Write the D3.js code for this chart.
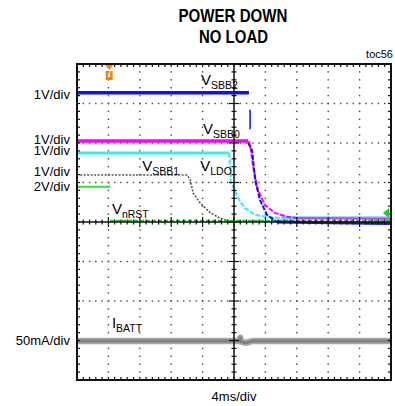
<!DOCTYPE html>
<html><head><meta charset="utf-8">
<script src="https://cdn.jsdelivr.net/npm/d3@7"></script>
<style>body{margin:0;background:#fff}svg{display:block}text{font-family:"Liberation Sans",Arial,sans-serif}</style>
</head><body><svg id="c" width="395" height="406"></svg>
<script>
// time in ms (4 ms/div), amplitude in screen divisions from centre
const vsbb2Flat = [[0,3.27],[21.9,3.27]];
const vsbb2Blip = [[22.05,2.84],[22.05,2.35]];
const vsbb2Fall = [[21.8,2.0],[22.3,1.82],[22.7,1.06],[23.3,0.56],[24.2,0.18],[25.5,0.0]];
const vsbb2End = [[25.5,0.0],[40,-0.04]];
const vsbb0Flat = [[0,2.05],[21.8,2.05]];
const vsbb0Fall = [[21.9,2.05],[22.15,1.82],[22.45,1.39],[23.05,0.81],[23.95,0.43],[25.2,0.23],[26.8,0.13],[28,0.1]];
const vsbb0End = [[28,0.1],[40,0.08]];
const vldoFlat = [[0,1.75],[19.36,1.75]];
const vldoFall = [[19.4,1.75],[19.6,1.0],[19.9,0.89],[20.5,0.61],[21.4,0.35],[22.7,0.18],[24.2,0.13],[26,0.1]];
const vldoEnd = [[26,0.1],[40,0.1]];
const vsbb1 = [[0.4,1.19],[14.0,1.19],[14.4,1.08],[14.8,0.73],[15.7,0.48],[17.0,0.23],[18.2,0.10],[19.2,0.03],[19.6,0.02]];
const vnrstHigh = [[0,0.89],[4.2,0.89]];
const vnrstLow = [[4.2,0.03],[40,0.03]];
const ibatt = [[0,-3.01],[20.7,-3.01],[20.8,-2.93],[20.9,-3.03],[21.5,-3.06],[22.4,-3.01],[40,-3.01]];
const scaleLabels = [["1V/div",3.22],["1V/div",2.10],["1V/div",1.82],["1V/div",1.28],["2V/div",0.89],["50mA/div",-3.01]];
const traceLabels = [["V","SBB2",15.8,3.47],["V","SBB0",16.05,2.22],["V","SBB1",8.3,1.30],["V","LDO",15.7,1.30],["V","nRST",4.45,0.20],["I","BATT",4.45,-2.68]];
const triggerT = 4.1, groundMark = 0.23;

const svg = d3.select("#c");
const x = d3.scaleLinear().domain([0,40]).range([77,391]);
const y = d3.scaleLinear().domain([-4,4]).range([380,64]);
const line = d3.line().x(d=>x(d[0])).y(d=>y(d[1]));

// title
svg.append("text").attr("x",233).attr("y",22).attr("text-anchor","middle").attr("font-weight","bold")
  .attr("font-size",19).attr("textLength",109).attr("lengthAdjust","spacingAndGlyphs").text("POWER DOWN");
svg.append("text").attr("x",233.5).attr("y",43).attr("text-anchor","middle").attr("font-weight","bold")
  .attr("font-size",19).attr("textLength",69).attr("lengthAdjust","spacingAndGlyphs").text("NO LOAD");
svg.append("text").attr("x",393).attr("y",58).attr("text-anchor","end").attr("font-size",11).text("toc56");
svg.append("text").attr("x",234).attr("y",401).attr("text-anchor","middle").attr("font-size",13).text("4ms/div");

// grid dots
const g = svg.append("g").attr("fill","#444");
const majorX = d3.range(4,40,4), majorY = d3.range(-3,4,1);
const minorX = d3.range(0,40.01,0.8), minorY = d3.range(-4,4.01,0.2);
majorY.forEach(v=>{ if(v===0) return; minorX.forEach(t=>g.append("rect").attr("x",x(t)-0.7).attr("y",y(v)-0.7).attr("width",1.4).attr("height",1.4)); });
majorX.forEach(t=>{ if(t===20) return; minorY.forEach(v=>g.append("rect").attr("x",x(t)-0.7).attr("y",y(v)-0.7).attr("width",1.4).attr("height",1.4)); });

// traces
function tr(data,color,w,dash){ const p=svg.append("path").datum(data).attr("d",line).attr("fill","none")
  .attr("stroke",color).attr("stroke-width",w).attr("stroke-linejoin","round"); if(dash) p.attr("stroke-dasharray",dash); return p; }
tr(ibatt,"#a8a8a8",6.5);
tr(ibatt,"#808080",3);
tr(vsbb1,"#555",1.6,"2,1.5");
tr(vnrstHigh,"#33dd33",2);
tr(vnrstLow,"#22cc22",2,"4,2");
tr(vldoFlat,"#33eeee",3);
tr(vldoFall,"#33eeee",2,"5,1.5");
tr(vldoEnd,"#44eeee",3.5);
tr(vsbb0Flat,"#ff00ff",3.5);
tr(vsbb0Fall,"#ff00ff",2,"5,1.5");
tr(vsbb0End,"#ff22ff",2);
tr(vsbb2Flat,"#1010e8",3.5);
tr(vsbb2Blip,"#1010e8",1.5);
tr(vsbb2Fall,"#1010e8",2,"5,1.5");
tr(vsbb2End,"#1010e8",3);

// centre axes
svg.append("line").attr("x1",x(0)).attr("x2",x(40)).attr("y1",y(0)).attr("y2",y(0)).attr("stroke","#111").attr("stroke-width",1.5);
svg.append("line").attr("x1",x(20)).attr("x2",x(20)).attr("y1",y(-4)).attr("y2",y(4)).attr("stroke","#111").attr("stroke-width",1.5);
const ax = svg.append("g").attr("stroke","#111").attr("stroke-width",1.2);
minorY.forEach(v=>{ const L = Math.abs(v-Math.round(v))<1e-6?5:2.5; ax.append("line").attr("x1",x(20)-L).attr("x2",x(20)+L).attr("y1",y(v)).attr("y2",y(v)); });
minorX.forEach(t=>{ const L = Math.abs(t/4-Math.round(t/4))<1e-6?5:2.5; ax.append("line").attr("x1",x(t)).attr("x2",x(t)).attr("y1",y(0)-L).attr("y2",y(0)+L); });
// frame ticks
minorX.forEach(t=>{ ax.append("line").attr("x1",x(t)).attr("x2",x(t)).attr("y1",y(4)).attr("y2",y(4)+3);
  ax.append("line").attr("x1",x(t)).attr("x2",x(t)).attr("y1",y(-4)).attr("y2",y(-4)-3); });
minorY.forEach(v=>{ ax.append("line").attr("x1",x(0)).attr("x2",x(0)+3).attr("y1",y(v)).attr("y2",y(v));
  ax.append("line").attr("x1",x(40)).attr("x2",x(40)-3).attr("y1",y(v)).attr("y2",y(v)); });
svg.append("rect").attr("x",x(0)).attr("y",y(4)).attr("width",x(40)-x(0)).attr("height",y(-4)-y(4))
  .attr("fill","none").attr("stroke","#111").attr("stroke-width",2);

// markers
const tx = x(triggerT);
svg.append("path").attr("d",`M${tx-4},${y(4)+1}L${tx+4},${y(4)+1}L${tx},${y(4)+6}Z`).attr("fill","#ff8000");
svg.append("path").attr("d",`M${tx-3.5},${y(4)+7}v9h7v-9h-2.5v6h-2v-6z`).attr("fill","#ff8000");
const gy = y(groundMark);
svg.append("path").attr("d",`M${x(40)-2},${gy-5}L${x(40)-2},${gy+5}L${x(40)-8},${gy}Z`).attr("fill","#22cc22");

// labels
scaleLabels.forEach(([s,v])=>svg.append("text").attr("x",70).attr("y",y(v)+4.5).attr("text-anchor","end").attr("font-size",13).text(s));
traceLabels.forEach(([m,sub,t,v])=>{ const tt = svg.append("text").attr("x",x(t)).attr("y",y(v)).attr("font-size",15);
  tt.append("tspan").text(m); tt.append("tspan").attr("font-size",10.5).attr("dy",4).text(sub); });
</script></body></html>
